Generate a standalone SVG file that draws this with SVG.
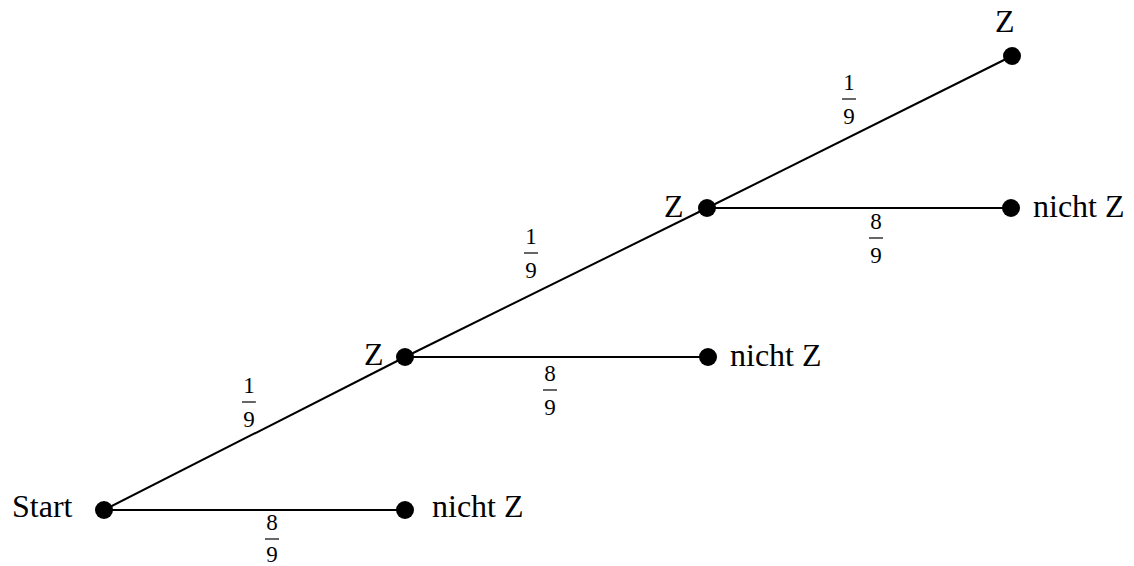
<svg xmlns="http://www.w3.org/2000/svg" width="1134" height="566" viewBox="0 0 1134 566">
<style>
.e{stroke:#000;stroke-width:2;fill:none}
.d{fill:#000}
.t{font-family:"Liberation Serif","Times New Roman",serif;font-size:32px;fill:#000}
.f{font-family:"Liberation Serif","Times New Roman",serif;font-size:23px;fill:#000;text-anchor:middle}
.b{stroke:#000;stroke-width:1.2}
</style>
<rect width="1134" height="566" fill="#fff"/>
<g id="connectors">
<line class="e" x1="104" y1="510" x2="405" y2="357"/>
<line class="e" x1="104" y1="510" x2="405" y2="510"/>
<line class="e" x1="405" y1="357" x2="707" y2="208"/>
<line class="e" x1="405" y1="357" x2="708" y2="357"/>
<line class="e" x1="707" y1="208" x2="1012" y2="56"/>
<line class="e" x1="707" y1="208" x2="1011" y2="208"/>
<g id="p1"><text class="f" x="249" y="393">1</text><line class="b" x1="242" y1="402" x2="256" y2="402"/><text class="f" x="249" y="427">9</text></g>
<g id="p2"><text class="f" x="272" y="530">8</text><line class="b" x1="265" y1="539" x2="279" y2="539"/><text class="f" x="272" y="562">9</text></g>
<g id="p3"><text class="f" x="531" y="244">1</text><line class="b" x1="524" y1="253" x2="538" y2="253"/><text class="f" x="531" y="278">9</text></g>
<g id="p4"><text class="f" x="550" y="381">8</text><line class="b" x1="543" y1="390" x2="557" y2="390"/><text class="f" x="550" y="415">9</text></g>
<g id="p5"><text class="f" x="849" y="90">1</text><line class="b" x1="842" y1="99" x2="856" y2="99"/><text class="f" x="849" y="124">9</text></g>
<g id="p6"><text class="f" x="876" y="229">8</text><line class="b" x1="869" y1="238" x2="883" y2="238"/><text class="f" x="876" y="263">9</text></g>
</g>
<g id="start"><circle class="d" cx="104" cy="510" r="9"/><text class="t" x="12" y="517">Start</text></g>
<g id="z1"><circle class="d" cx="405" cy="357" r="9"/><text class="t" x="364" y="365">Z</text></g>
<g id="nz1"><circle class="d" cx="405" cy="510" r="9"/><text class="t" x="432" y="517">nicht Z</text></g>
<g id="z2"><circle class="d" cx="707" cy="208" r="9"/><text class="t" x="664" y="217">Z</text></g>
<g id="nz2"><circle class="d" cx="708" cy="357" r="9"/><text class="t" x="730" y="366">nicht Z</text></g>
<g id="z3"><circle class="d" cx="1012" cy="56" r="9"/><text class="t" x="995" y="32">Z</text></g>
<g id="nz3"><circle class="d" cx="1011" cy="208" r="9"/><text class="t" x="1033" y="217">nicht Z</text></g>
</svg>
